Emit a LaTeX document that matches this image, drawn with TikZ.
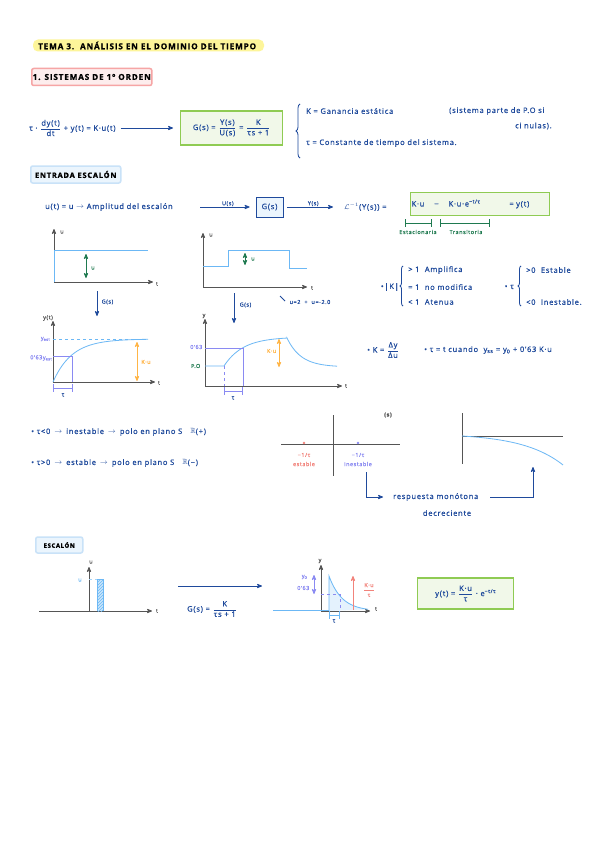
\documentclass[tikz,border=0pt]{standalone}
\usepackage{amsmath}
\usepackage{amssymb}
\usepackage{fontspec}
\setmainfont[LetterSpace=10, FakeBold=0.8]{Open Sans}
\usepackage{xcolor}
\usetikzlibrary{calc}
\usetikzlibrary{arrows}
\usetikzlibrary{patterns}
\usetikzlibrary{decorations.pathreplacing}

\definecolor{ink}{HTML}{1F4A9C}
\definecolor{sky}{HTML}{6CB8F5}
\definecolor{lav}{HTML}{8A8AF2}
\definecolor{orng}{HTML}{FFB546}
\definecolor{grn}{HTML}{1F7A50}
\definecolor{pnk}{HTML}{F2837B}
\definecolor{hlyel}{HTML}{FDF59A}
\definecolor{gbord}{HTML}{8FCB53}
\definecolor{gfill}{HTML}{F1F8E9}
\definecolor{pbord}{HTML}{F6A5A5}
\definecolor{pfill}{HTML}{FDEDED}
\definecolor{bbord}{HTML}{C9E2F8}
\definecolor{bfill}{HTML}{EBF5FD}
\definecolor{axgray}{HTML}{555555}

\newcommand{\hw}{\fontsize{7.5}{8.5}\selectfont}
\newcommand{\hb}{\fontsize{8.2}{9.2}\selectfont}
\newcommand{\sm}{\fontsize{5.5}{6.5}\selectfont}
\newcommand{\nfrac}[2]{$\dfrac{\text{#1}}{\text{#2}}$}

\tikzset{
  txt/.style={text=ink, font=\hw, inner sep=1pt},
  head/.style={text=black, font=\hw\bfseries, inner sep=1pt},
  lbl/.style={font=\sm, inner sep=0.5pt},
  axis/.style={draw=axgray, thick, ->, >=stealth'},
  flow/.style={draw=ink, thick, ->, >=stealth'},
  dbl/.style={thick, <->, >=stealth'},
  greenbox/.style={draw=gbord, fill=gfill, line width=1.3pt, inner sep=4pt, txt},
  tag/.style={line width=1.5pt, rounded corners=2pt, inner sep=4pt, head},
  tbar/.style={thick, |-|}
}

\begin{document}
\begin{tikzpicture}[x=1pt,y=-1pt]
\useasboundingbox[fill=white] (0,0) rectangle (599,848);

\fill[hlyel, rounded corners=5pt] (33,39.5) rectangle (264,51.5);
\node[head, font=\hb\bfseries, anchor=west] (title) at (37,45.5) {TEMA 3.\ \ ANÁLISIS EN EL DOMINIO DEL TIEMPO};
\node[tag, font=\hb\bfseries, draw=pbord, fill=pfill, anchor=west, minimum height=17pt] (sec) at (31,77) {1. SISTEMAS DE 1º ORDEN};

\node[txt, anchor=west] (ode) at (28,128) {τ · \nfrac{dy(t)}{dt} + y(t) = K·u(t)};
\node[greenbox, anchor=west, minimum width=102pt, minimum height=34pt] (gs) at (180,128) {G(s) = \nfrac{Y(s)}{U(s)} = \nfrac{K}{τs + 1}};
\draw[flow, shorten <=4pt, shorten >=7pt] (ode) -- (gs);
\draw[ink, thick, decorate, decoration={brace, amplitude=4pt}] (300,158) -- (300,104);
\node[txt, anchor=west] (kdef) at (305,111) {K = Ganancia estática};
\node[txt, anchor=west] (po) at (448,111) {(sistema parte de P.O si};
\node[txt, anchor=west] (po2) at (514,126) {ci nulas).};
\node[txt, anchor=west] (taudef) at (305,143) {τ = Constante de tiempo del sistema.};

\node[tag, draw=bbord, fill=bfill, anchor=west, minimum height=17pt, minimum width=90pt] (entrada) at (30,174.5) {ENTRADA ESCALÓN};
\node[txt, anchor=west] (uin) at (44,207) {u(t) = u $\rightarrow$ Amplitud del escalón};
\coordinate (ustart) at (200,207);
\node[draw=ink, fill=bfill, thick, txt, minimum width=27pt, minimum height=20pt] (gblk) at (269.5,207) {G(s)};
\draw[flow, shorten >=6pt] (ustart) -- node[above, txt, lbl] {U(s)} (gblk);
\node[txt, anchor=west] (linv) at (343,207) {$\mathcal{L}^{-1}$(Y(s)) =};
\draw[flow, shorten <=4pt, shorten >=10pt] (gblk) -- node[above, txt, lbl] {Y(s)} (linv);
\node[greenbox, anchor=west, text width=137pt, minimum height=23pt, align=left] (resp) at (410,204) {K·u \quad − \quad K·u·e\textsuperscript{−t/τ} \hspace{24pt} = y(t)};
\draw[grn, tbar] (405,223) -- (432,223);
\draw[grn, tbar] (440,223) -- (490,223);
\node[txt, lbl, text=grn] (estac) at (418,232) {Estacionaria};
\node[txt, lbl, text=grn] (trans) at (466,232) {Transitoria};

% escalon
\draw[axis] (54,282) -- (54,229);
\draw[axis] (54,282) -- (153,282);
\node[txt, lbl, text=axgray] (u1) at (62,232) {u};
\node[txt, lbl, text=axgray] (t1) at (157,284) {t};
\draw[sky, thick] (54,282) -- (54,250) -- (148,250);
\draw[grn, dbl] (86,254) -- (86,278);
\node[txt, lbl, text=grn] (ua) at (93,268) {u};
\draw[flow] (97,291) -- (97,316);
\node[txt, lbl, anchor=west] (g1) at (101,302) {G(s)};

\draw[axis] (53,382) -- (53,321);
\draw[axis] (53,382) -- (155,382);
\node[txt, lbl, text=axgray] (y2) at (48,318) {y(t)};
\node[txt, lbl, text=axgray] (t2) at (159,383) {t};
\draw[sky, thick, dashed] (53,339) -- (148,339);
\draw[sky, thick] plot[domain=53:148, samples=40] (\x,{382-43*(1-exp(-(\x-53)/19))});
\draw[lav, thick] (53,356) -- (72,356) -- (72,382);
\node[txt, lbl, text=lav, anchor=east] (yest) at (51,339) {y\textsubscript{est}};
\node[txt, lbl, text=lav, anchor=east] (y63) at (53,358) {0'63y\textsubscript{est}};
\draw[orng, dbl] (137,342) -- (137,381);
\node[txt, lbl, text=orng] (ku1) at (146,362) {K·u};
\draw[lav, tbar] (53,388) -- (73,388);
\node[txt, lbl] (tau1) at (63,395) {τ};

% entrada pulso
\draw[axis] (203,287) -- (203,233);
\draw[axis] (203,287) -- (307,287);
\node[txt, lbl, text=axgray] (u3) at (211,235) {u};
\node[txt, lbl, text=axgray] (t3) at (312,288) {t};
\draw[sky, thick] (203,266) -- (228,266) -- (228,250) -- (289,250) -- (289,268) -- (307,268);
\draw[grn, dbl] (245,253) -- (245,265);
\node[txt, lbl, text=grn] (ub) at (253,259) {u};
\draw[flow] (234,293) -- (234,323);
\node[txt, lbl, anchor=west] (g2) at (239,305) {G(s)};
\draw[ink, thick] (280,296) -- (285,301);
\node[txt, lbl, anchor=west] (uvals) at (289,302) {u=2 \ + \ u=-2.0};

\draw[axis] (205,386) -- (205,319);
\draw[axis] (205,386) -- (342,386);
\node[txt, lbl, text=axgray] (y4) at (204,316) {y};
\node[txt, lbl, text=axgray] (t4) at (346,386) {t};
\draw[sky, thick] (205,366) -- (224,366)
  -- plot[domain=224:287, samples=40] (\x,{366-29*(1-exp(-(\x-224)/19))})
  -- plot[domain=287:337, samples=40] (\x,{367-29*exp(-(\x-287)/14)});
\draw[lav, thick] (205,348) -- (243,348) -- (243,386);
\draw[lav, thick, dashed] (224,366) -- (224,386);
\draw[lav, tbar] (224,391) -- (243,391);
\node[txt, lbl] (tau4) at (233,398) {τ};
\node[txt, lbl, text=lav, anchor=east] (o63) at (203,347) {0'63};
\node[txt, lbl, text=grn, anchor=east] (po4) at (201,366) {P.O};
\draw[orng, dbl] (279,339) -- (279,367);
\node[txt, lbl, text=orng, anchor=east] (ku4) at (277,351) {K·u};

% propiedades
\node[txt, anchor=east] (kabs) at (400,287) {•|K|};
\draw[ink, thick, decorate, decoration={brace, amplitude=3pt}] (403,306) -- (403,266);
\node[txt, anchor=west] (k1) at (407,270) {> 1 \ Amplifica};
\node[txt, anchor=west] (k2) at (407,287) {= 1 \ no modifica};
\node[txt, anchor=west] (k3) at (407,302) {< 1 \ Atenua};
\node[txt, anchor=east] (taub) at (515,287) {• τ};
\draw[ink, thick, decorate, decoration={brace, amplitude=3pt}] (521,306) -- (521,266);
\node[txt, anchor=west] (s1) at (525,270) {>0 \ Estable};
\node[txt, anchor=west] (s2) at (525,302) {<0 \ Inestable.};
\node[txt, anchor=west] (kq) at (366,350) {• K = \nfrac{Δy}{Δu}};
\node[txt, anchor=west] (tq) at (423,350) {• τ = t cuando \ y\textsubscript{ss} = y\textsubscript{0} + 0'63 K·u};

% polos
\node[txt, anchor=west] (inest) at (30,432) {• τ<0 \,$\rightarrow$\, inestable \,$\rightarrow$\, polo en plano S \ \ $\mathbb{R}$(+)};
\node[txt, anchor=west] (est) at (30,463) {• τ>0 \,$\rightarrow$\, estable \,$\rightarrow$\, polo en plano S \ \ $\mathbb{R}$(−)};
\draw[axgray, thick] (281,444) -- (400,444);
\draw[axgray, thick] (333,415) -- (333,476);
\node[txt, lbl, text=axgray, font=\sm\bfseries] (splane) at (388,415) {(s)};
\fill[pnk] (304,443) circle (1.3pt);
\fill[lav] (358,443) circle (1.3pt);
\node[txt, lbl, text=pnk] (p1) at (304,455) {−1/τ};
\node[txt, lbl, text=pnk] (p1b) at (304,464) {estable};
\node[txt, lbl, text=lav] (p2) at (358,455) {−1/τ};
\node[txt, lbl, text=lav] (p2b) at (358,464) {inestable};
\node[txt, anchor=west] (mono) at (392,497) {respuesta monótona};
\node[txt] (decr) at (447,513) {decreciente};
\coordinate (pstart) at (366,472);
\coordinate (rtarget) at (533,467);
\draw[flow, shorten >=9pt] (pstart) |- (mono.west);
\draw[flow, shorten <=11pt] (mono.east) -| (rtarget);
\draw[axgray, thick] (462,413) -- (462,464);
\draw[axgray, thick] (462,436) -- (563,436);
\draw[sky, thick] plot[domain=462:563, samples=40] (\x,{436+2.52*(exp((\x-462)/40)-1)});

% escalon -> impulso
\node[tag, draw=bbord, fill=bfill, anchor=west, minimum height=16pt, minimum width=47pt] (escalon) at (35,545) {\fontsize{6}{7}\selectfont ESCALÓN};
\draw[axis] (89,611) -- (89,567);
\draw[axis] (39,611) -- (152,611);
\node[txt, lbl, text=axgray] (u5) at (91,562) {u};
\node[txt, lbl, text=axgray] (t5) at (157,611) {t};
\fill[sky!35] (97,579) rectangle (103,611);
\fill[pattern=north east lines, pattern color=sky] (97,579) rectangle (103,611);
\draw[sky, thick] (97,611) -- (97,579) -- (103,579) -- (103,611);
\draw[sky!60, dashed] (89,579) -- (97,579);
\node[txt, lbl, text=sky] (ux) at (80,580) {u};
\coordinate (garrowA) at (178,586);
\coordinate (garrowB) at (262,586);
\draw[flow] (garrowA) -- (garrowB);
\node[txt, anchor=west] (gtf) at (186,609) {G(s) = \nfrac{K}{τs + 1}};

\fill[sky!18] (329,611) -- plot[domain=329:368, samples=40] (\x,{611-35*exp(-(\x-329)/13)}) -- cycle;
\draw[axis] (321,611) -- (321,565);
\draw[axis] (321,611) -- (370,611);
\draw[sky, thick] (273,610.5) -- (329,610.5) -- (329,576)
  -- plot[domain=329:368, samples=40] (\x,{611-35*exp(-(\x-329)/13)});
\node[txt, lbl, text=axgray] (y6) at (320,561) {y};
\node[txt, lbl, text=axgray] (t6) at (376,609) {t};
\draw[lav, dashed] (321,594) -- (340,594) -- (340,611);
\draw[sky, tbar] (329,615) -- (340,615);
\node[txt, lbl] (tau6) at (334,621) {τ};
\draw[lav, dbl] (314,575) -- (314,594);
\node[txt, lbl, text=lav, anchor=east] (y0) at (308,577) {y\textsubscript{0}};
\node[txt, lbl, text=lav, anchor=east] (o63b) at (310,588) {0'63};
\draw[pnk, thick, ->, >=stealth'] (353,610) -- (353,576);
\node[txt, lbl, text=pnk] (kut) at (369,590) {\nfrac{K·u}{τ}};
\node[greenbox, anchor=west, minimum width=96pt, minimum height=31pt] (yimp) at (417,593.5) {y(t) = \nfrac{K·u}{τ} · e\textsuperscript{−t/τ}};
\end{tikzpicture}
\end{document}
